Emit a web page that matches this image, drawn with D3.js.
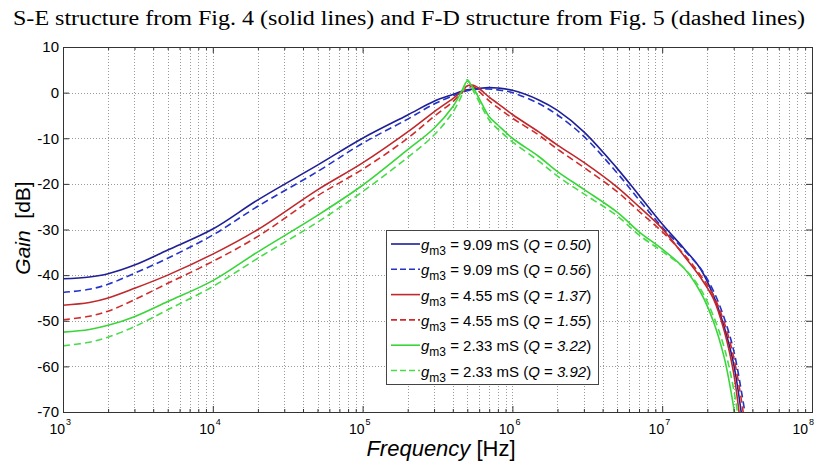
<!DOCTYPE html>
<html>
<head>
<meta charset="utf-8">
<script src="https://cdn.jsdelivr.net/npm/d3@7"></script>
<style>
body { margin: 0; background: #fff; }
svg { display: block; }
</style>
</head>
<body>
<svg id="chart" width="817" height="463"></svg>
<script>
const freqs = [1e3, 1.5e3, 2e3, 3e3, 5e3, 1e4, 2e4, 5e4, 1e5, 2e5, 3e5, 4e5, 4.6e5, 5e5, 5.5e5, 6e5, 7e5, 8e5,
    1e6, 1.5e6, 2e6, 3e6, 5e6, 7e6, 1e7, 1.4e7, 1.8e7, 2.2e7, 2.6e7, 3e7, 3.4e7, 3.8e7]

// gain in dB, S-E structure (solid) and F-D structure (dashed)
const gainSE909 = [-40.8, -40.4, -39.7, -37.8, -34.5, -29.9, -23.5, -15.9, -10.0, -4.9, -1.9, -0.4, 0.3, 0.6, 0.8, 0.95, 1.1, 1.0,
    0.5, -1.6, -3.9, -8.6, -16.6, -22.5, -28.8, -34.2, -38.6, -44.5, -51.5, -59.5, -71, -85]
const gainFD909 = [-43.8, -43.1, -42.0, -39.6, -36.3, -31.2, -24.9, -17.3, -11.1, -5.8, -2.5, -0.7, 0.1, 0.4, 0.6, 0.8, 0.8, 0.6,
    0.0, -2.4, -4.9, -9.6, -17.6, -23.5, -29.5, -34.5, -38.5, -43.5, -49.5, -56.5, -66, -76]
const gainSE455 = [-46.6, -46.0, -45.0, -42.9, -40.0, -35.4, -30.0, -21.3, -15.4, -8.6, -4.2, -1.3, 0.3, 1.5, 1.6, 0.9, -1.0, -2.4,
    -4.8, -8.6, -11.5, -15.3, -20.7, -25.0, -29.8, -35.8, -40.5, -45.2, -52.3, -61.5, -75, -88]
const gainFD455 = [-49.8, -49.0, -47.9, -45.4, -41.8, -37.0, -31.5, -22.6, -16.8, -10.0, -5.2, -2.0, 0.0, 1.0, 1.3, 0.2, -1.8, -3.3,
    -5.6, -9.3, -12.4, -16.4, -21.7, -26.0, -30.5, -35.5, -40.0, -44.5, -50.5, -58.0, -68, -80]
const gainSE233 = [-52.5, -51.9, -51.0, -49.1, -45.8, -41.2, -34.9, -26.9, -20.3, -12.5, -7.8, -3.1, 0.4, 2.5, 0.9, -1.3, -5.3, -7.1,
    -10.0, -14.0, -17.3, -21.2, -26.2, -30.5, -34.3, -38.5, -43.7, -50.2, -58.2, -69, -82, -95]
const gainFD233 = [-55.5, -54.7, -53.6, -51.3, -47.6, -42.5, -36.3, -28.4, -21.7, -14.2, -9.3, -4.3, -0.5, 2.8, 0.3, -2.0, -6.0, -8.0,
    -10.8, -15.0, -18.3, -22.2, -27.0, -31.2, -34.8, -38.5, -43.0, -49.0, -56.0, -65.0, -77, -90]

const legendGm = ["9.09", "9.09", "4.55", "4.55", "2.33", "2.33"]
const legendQ = ["0.50", "0.56", "1.37", "1.55", "3.22", "3.92"]

const yTicks = [10, 0, -10, -20, -30, -40, -50, -60, -70]
const xDecades = [3, 4, 5, 6, 7, 8]

const series = [
    { values: gainSE909, color: "#1f1f96", dash: null },
    { values: gainFD909, color: "#2433c8", dash: "7,4" },
    { values: gainSE455, color: "#c0282b", dash: null },
    { values: gainFD455, color: "#d22a2a", dash: "7,4" },
    { values: gainSE233, color: "#38d638", dash: null },
    { values: gainFD233, color: "#48dc48", dash: "7,4" },
]

const sansFont = "'Liberation Sans', Arial, sans-serif"
const plotLeft = 63, plotRight = 812, plotTop = 47, plotBottom = 412

let svg = d3.select("#chart")
let x = d3.scaleLog().domain([1e3, 1e8]).range([plotLeft, plotRight])
let y = d3.scaleLinear().domain([-70, 10]).range([plotBottom, plotTop])

// minor + major frequencies for grid and ticks
let minorFreqs = []
xDecades.slice(0, -1).forEach((d) => {
    for (let k = 2; k <= 9; k++) minorFreqs.push(k * Math.pow(10, d))
})
let majorFreqs = xDecades.map((d) => Math.pow(10, d))

// grid
let grid = svg.append("g").attr("stroke", "#9a9a9a").attr("stroke-width", 1).attr("stroke-dasharray", "1,2")
grid.selectAll("line.vx")
    .data(minorFreqs.concat(majorFreqs.slice(1, -1)))
    .enter()
    .append("line")
    .attr("x1", (d) => Math.round(x(d)) + 0.5)
    .attr("x2", (d) => Math.round(x(d)) + 0.5)
    .attr("y1", plotTop)
    .attr("y2", plotBottom)
grid.selectAll("line.hy")
    .data(yTicks.slice(1, -1))
    .enter()
    .append("line")
    .attr("x1", plotLeft)
    .attr("x2", plotRight)
    .attr("y1", (d) => Math.round(y(d)) + 0.5)
    .attr("y2", (d) => Math.round(y(d)) + 0.5)

// curves
svg.append("clipPath").attr("id", "plotclip")
    .append("rect").attr("x", plotLeft).attr("y", plotTop).attr("width", plotRight - plotLeft).attr("height", plotBottom - plotTop)

let lineGen = d3.line()
    .x((d) => x(d[0]))
    .y((d) => y(d[1]))
    .curve(d3.curveCatmullRom.alpha(0.5))

svg.append("g")
    .attr("clip-path", "url(#plotclip)")
    .selectAll("path")
    .data(series)
    .enter()
    .append("path")
    .attr("d", (s) => lineGen(freqs.map((f, i) => [f, s.values[i]])))
    .attr("fill", "none")
    .attr("stroke", (s) => s.color)
    .attr("stroke-width", 1.6)
    .attr("stroke-dasharray", (s) => s.dash)

// axes (ticks inward)
function styleAxis(g) {
    g.select(".domain").remove()
    g.selectAll(".tick line").attr("stroke", "#333")
    g.selectAll("text").attr("font-family", sansFont).attr("font-size", 15).attr("fill", "#000")
}
svg.append("g").attr("transform", `translate(0,${plotBottom})`)
    .call(d3.axisBottom(x).tickValues(majorFreqs).tickSize(-6).tickFormat(""))
    .call(styleAxis)
svg.append("g").attr("transform", `translate(0,${plotBottom})`)
    .call(d3.axisBottom(x).tickValues(minorFreqs).tickSize(-3).tickFormat(""))
    .call(styleAxis)
svg.append("g").attr("transform", `translate(0,${plotTop})`)
    .call(d3.axisTop(x).tickValues(majorFreqs).tickSize(-6).tickFormat(""))
    .call(styleAxis)
svg.append("g").attr("transform", `translate(0,${plotTop})`)
    .call(d3.axisTop(x).tickValues(minorFreqs).tickSize(-3).tickFormat(""))
    .call(styleAxis)
svg.append("g").attr("transform", `translate(${plotLeft},0)`)
    .call(d3.axisLeft(y).tickValues(yTicks).tickSize(-6).tickPadding(4).tickFormat((d) => String(d)))
    .call(styleAxis)
svg.append("g").attr("transform", `translate(${plotRight},0)`)
    .call(d3.axisRight(y).tickValues(yTicks).tickSize(-6).tickFormat(""))
    .call(styleAxis)

// box
svg.append("rect")
    .attr("x", plotLeft + 0.5).attr("y", plotTop + 0.5)
    .attr("width", plotRight - plotLeft).attr("height", plotBottom - plotTop)
    .attr("fill", "none").attr("stroke", "#333").attr("stroke-width", 1)

// x tick labels 10^n
let xl = svg.append("g").attr("font-family", sansFont).attr("fill", "#000")
xDecades.forEach((d) => {
    let px = Math.min(x(Math.pow(10, d)), 806)
    xl.append("text").attr("x", px + 2).attr("y", 434).attr("text-anchor", "end").attr("font-size", 14).text("10")
    xl.append("text").attr("x", px + 3).attr("y", 425).attr("font-size", 9).text(d)
})

// axis titles
svg.append("text")
    .attr("x", 441).attr("y", 456)
    .attr("text-anchor", "middle")
    .attr("font-family", sansFont)
    .attr("font-size", 22)
    .call((t) => {
        t.append("tspan").attr("font-style", "italic").text("Frequency")
        t.append("tspan").text(" [Hz]")
    })

svg.append("text")
    .attr("transform", "translate(30,228) rotate(-90)")
    .attr("text-anchor", "middle")
    .attr("font-family", sansFont)
    .attr("font-size", 21)
    .call((t) => {
        t.append("tspan").attr("font-style", "italic").text("Gain")
        t.append("tspan").text("\u00a0 [dB]")
    })

// title
svg.append("text")
    .attr("x", 13).attr("y", 25)
    .attr("font-family", "'Liberation Serif', 'Times New Roman', serif")
    .attr("font-size", 20)
    .attr("textLength", 792)
    .attr("lengthAdjust", "spacingAndGlyphs")
    .text("S-E structure from Fig. 4 (solid lines) and F-D structure from Fig. 5 (dashed lines)")

// legend
let legend = svg.append("g")
legend.append("rect")
    .attr("x", 386.5).attr("y", 230.5).attr("width", 212).attr("height", 154)
    .attr("fill", "#fff").attr("stroke", "#444").attr("stroke-width", 1)

series.forEach((s, i) => {
    let ly = 244 + i * 25.3
    legend.append("line")
        .attr("x1", 391).attr("x2", 420).attr("y1", ly).attr("y2", ly)
        .attr("stroke", s.color).attr("stroke-width", 1.6)
        .attr("stroke-dasharray", s.dash ? "6,3" : null)
    let t = legend.append("text")
        .attr("x", 421).attr("y", ly + 6)
        .attr("font-family", sansFont)
        .attr("font-size", 15)
    t.append("tspan").attr("font-style", "italic").text("g")
    t.append("tspan").attr("font-size", 12).attr("dy", 5).text("m3")
    t.append("tspan").attr("dy", -5).text(" = " + legendGm[i] + " mS (")
    t.append("tspan").attr("font-style", "italic").text("Q")
    t.append("tspan").text(" = ")
    t.append("tspan").attr("font-style", "italic").text(legendQ[i])
    t.append("tspan").text(")")
})
</script>
</body>
</html>
